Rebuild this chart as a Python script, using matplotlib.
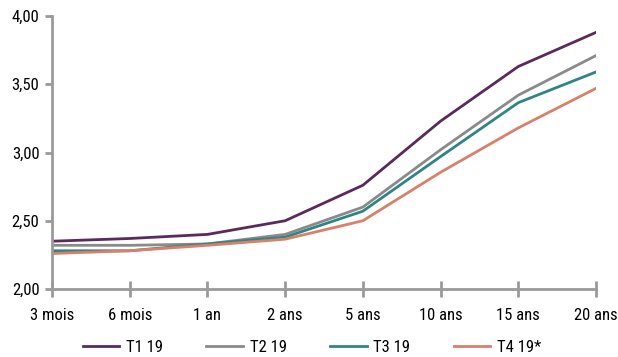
import matplotlib
matplotlib.use('Agg')
import matplotlib.pyplot as plt
from matplotlib.ticker import FuncFormatter

plt.rcParams['font.family'] = ['Roboto Condensed', 'Open Sans Condensed', 'DejaVu Sans']
plt.rcParams['font.stretch'] = 'condensed'

maturites = ['3 mois', '6 mois', '1 an', '2 ans', '5 ans', '10 ans', '15 ans', '20 ans']
t1_19 = [2.35, 2.37, 2.40, 2.50, 2.76, 3.23, 3.63, 3.88]
t2_19 = [2.32, 2.32, 2.33, 2.40, 2.60, 3.02, 3.42, 3.71]
t3_19 = [2.28, 2.28, 2.33, 2.38, 2.57, 2.97, 3.365, 3.59]
t4_19 = [2.26, 2.28, 2.32, 2.365, 2.50, 2.855, 3.18, 3.47]

series = [('T1 19', t1_19, '#5b2a5c'),
          ('T2 19', t2_19, '#8a8a8a'),
          ('T3 19', t3_19, '#2f8584'),
          ('T4 19*', t4_19, '#d9806a')]

fig = plt.figure(figsize=(6.18, 3.57), dpi=100)
ax = fig.add_axes([52 / 618, 1 - 289 / 357, 544 / 618, 273 / 357])

x = range(len(maturites))
for name, vals, col in series:
    ax.plot(x, vals, color=col, lw=2, label=name)

ax.set_xlim(0, len(maturites) - 1)
ax.set_ylim(2.0, 4.0)
ax.set_yticks([2.0, 2.5, 3.0, 3.5, 4.0])
ax.yaxis.set_major_formatter(FuncFormatter(lambda v, p: '{:.2f}'.format(v).replace('.', ',')))
ax.set_xticks(list(x))
ax.set_xticklabels(maturites)

axis_col = '#9a9a9a'
for s in ['top', 'right']:
    ax.spines[s].set_visible(False)
for s in ['left', 'bottom']:
    ax.spines[s].set_color(axis_col)
    ax.spines[s].set_linewidth(2)
ax.tick_params(axis='x', direction='inout', length=12, width=2, color=axis_col,
               labelsize=12, pad=8)
ax.tick_params(axis='y', direction='out', length=5, width=2, color=axis_col,
               labelsize=12, pad=4)
for lbl in ax.get_xticklabels() + ax.get_yticklabels():
    lbl.set_clip_on(False)

fig.legend(loc='center', bbox_to_anchor=(0.505, 1 - 347 / 357), ncol=4, frameon=False,
           fontsize=12, handlelength=2.2, columnspacing=2.6, handletextpad=0.4)

fig.savefig('out.png', dpi=100)
